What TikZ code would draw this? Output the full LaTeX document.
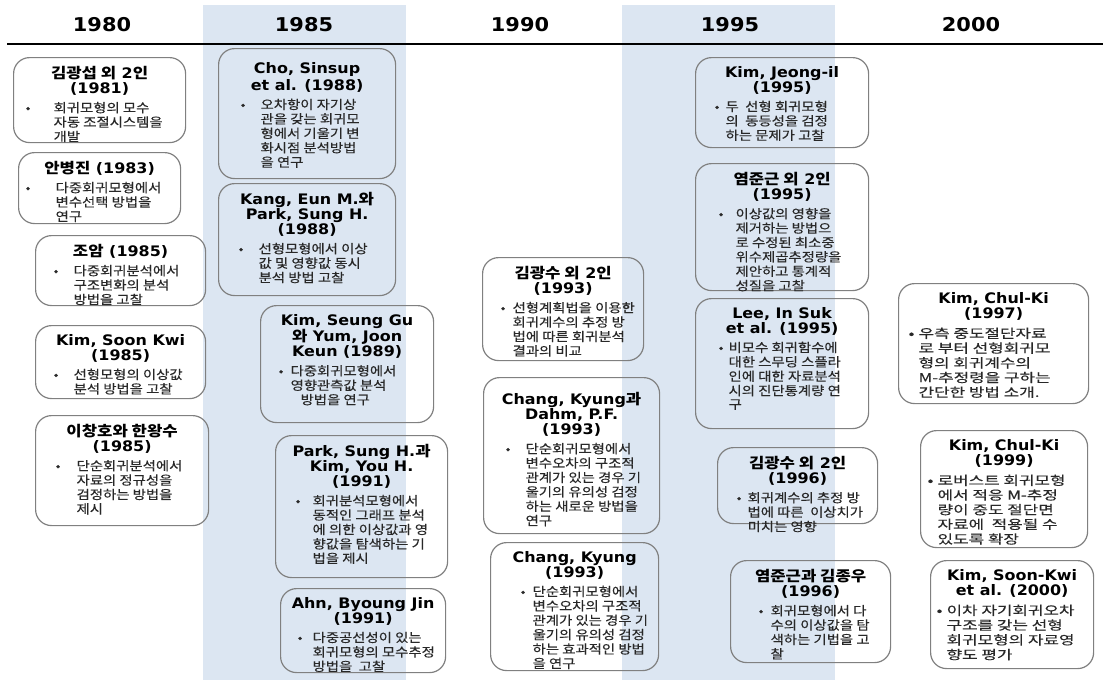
\documentclass[tikz,border=0pt]{standalone}
\usepackage{fontspec}
\setmainfont{DejaVu Sans}[FakeStretch=1.1]
\newfontfamily\krfont{Noto Sans CJK KR}[FakeStretch=1.15]
\newfontfamily\krbody{Noto Sans CJK KR}[FakeStretch=1.15, FakeBold=0.3]
\newfontfamily\krwide{Noto Sans CJK KR}[FakeStretch=1.35, FakeBold=0.3]
\newcommand{\kr}[1]{{\krfont #1}}

\definecolor{band}{RGB}{220,230,242}
\definecolor{boxline}{RGB}{128,128,128}
\definecolor{bodygray}{RGB}{40,40,40}

\newcommand{\titlefont}{\bfseries\fontsize{14.5}{15}\selectfont}
\newcommand{\bodyfont}{\mdseries\krbody\fontsize{12.5}{13.5}\selectfont\color{bodygray}}
\newcommand{\widebody}{\renewcommand{\bodyfont}{\mdseries\krwide\fontsize{12.5}{14.4}\selectfont\color{bodygray}}}
\newcommand{\papertext}[6]{%
  \parbox[t][#2pt][t]{#1pt}{\vspace*{5pt}\centering\titlefont #5\par
    \vspace{5pt}\raggedright\bodyfont
    \makebox[#4pt][l]{\hspace*{#3pt}\textbullet}%
    \begin{tabular}[t]{@{}l@{}}#6\end{tabular}\par}}

\tikzset{
  paper/.style={draw=boxline, line width=1.2pt, rounded corners=16pt, inner sep=4pt, anchor=north west},
  year/.style={font=\bfseries\fontsize{19}{22}\selectfont},
}

\begin{document}
\begin{tikzpicture}[x=1pt, y=-1pt]
\useasboundingbox (0,0) rectangle (1103,680);
\fill[band] (203,5) rectangle (406,680);
\fill[band] (622,5) rectangle (835,680);
\draw[line width=2pt] (7,44) -- (1103,44);

\node[year] (y1980) at (102,25) {1980};
\node[year] (y1985) at (304,25) {1985};
\node[year] (y1990) at (520,25) {1990};
\node[year] (y1995) at (730,25) {1995};
\node[year] (y2000) at (971,25) {2000};

\node[paper] (kim81) at (13,57) {\papertext{164}{77}{8}{36}{\kr{김광섭 외} 2\kr{인}\\(1981)}{회귀모형의 모수\\자동 조절시스템을\\개발}};
\node[paper] (ahn83) at (18,152) {\papertext{154}{63}{3}{33}{\kr{안병진} (1983)}{다중회귀모형에서\\변수선택 방법을\\연구}};
\node[paper] (cho85) at (35,235) {\papertext{162}{62}{14}{34}{\kr{조암} (1985)}{다중회귀분석에서\\구조변화의 분석\\방법을 고찰}};
\node[paper] (kimsk85) at (35,325) {\papertext{162}{65}{14}{34}{Kim, Soon Kwi\\(1985)}{선형모형의 이상값\\분석 방법을 고찰}};
\node[paper] (lee85) at (35,415) {\papertext{165}{102}{16}{37}{\kr{이창호와 한왕수}\\(1985)}{단순회귀분석에서\\자료의 정규성을\\검정하는 방법을\\제시}};

\node[paper] (cho88) at (218,48) {\papertext{169}{122}{18}{38}{\vspace*{5pt}Cho, Sinsup\\[2pt]et al. (1988)}{오차항이 자기상\\관을 갖는 회귀모\\형에서 기울기 변\\화시점 분석방법\\을 연구}};
\node[paper] (kang88) at (218,183) {\papertext{169}{104}{16}{36}{Kang, Eun M.\kr{와}\\Park, Sung H.\\(1988)}{선형모형에서 이상\\값 및 영향값 동시\\분석 방법 고찰}};
\node[paper] (kim89) at (260,305) {\papertext{165}{109}{14}{26}{Kim, Seung Gu\\\kr{와} Yum, Joon\\Keun (1989)}{다중회귀모형에서\\영향관측값 분석\\\hspace*{10pt}방법을 연구}};
\node[paper] (park91) at (275,435) {\papertext{164}{134}{16}{33}{Park, Sung H.\kr{과}\\Kim, You H.\\(1991)}{회귀분석모형에서\\동적인 그래프 분석\\에 의한 이상값과 영\\향값을 탐색하는 기\\법을 제시}};
\node[paper] (ahn91) at (280,588) {\papertext{157}{76}{13}{28}{Ahn, Byoung Jin\\(1991)}{다중공선성이 있는\\회귀모형의 모수추정\\방법을\ \ 고찰}};

\node[paper] (kim93) at (482,257) {\papertext{153}{95}{14}{26}{\kr{김광수 외} 2\kr{인}\\(1993)}{선형계획법을 이용한\\회귀계수의 추정 방\\법에 따른 회귀분석\\결과의 비교}};
\node[paper] (chang93a) at (483,377) {\papertext{168}{148}{18}{38}{\vspace*{6pt}Chang, Kyung\kr{과}\\Dahm, P.F.\\(1993)}{단순회귀모형에서\\변수오차의 구조적\\관계가 있는 경우 기\\울기의 유의성 검정\\하는 새로운 방법을\\연구}};
\node[paper] (chang93b) at (490,542) {\papertext{160}{120}{26}{38}{Chang, Kyung\\(1993)}{단순회귀모형에서\\변수오차의 구조적\\관계가 있는 경우 기\\울기의 유의성 검정\\하는 효과적인 방법\\을 연구}};

\node[paper] (kim95) at (695,57) {\papertext{165}{82}{15}{26}{Kim, Jeong-il\\(1995)}{두\ \ 선형 회귀모형\\의\ \ 동등성을 검정\\하는 문제가 고찰}};
\node[paper] (yum95) at (695,163) {\papertext{165}{119}{19}{36}{\kr{염준근 외} 2\kr{인}\\(1995)}{이상값의 영향을\\제거하는 방법으\\로 수정된 최소중\\위수제곱추정량을\\제안하고 통계적\\성질을 고찰}};
\node[paper] (lee95) at (695,298) {\papertext{165}{122}{19}{29}{Lee, In Suk\\et al. (1995)}{비모수 회귀함수에\\대한 스무딩 스플라\\인에 대한 자료분석\\시의 진단통계량 연\\구}};
\node[paper] (kim96) at (717,447) {\papertext{152}{68}{15}{26}{\kr{김광수 외} 2\kr{인}\\(1996)}{회귀계수의 추정 방\\법에 따른\ \ 이상치가\\미치는 영향}};
\node[paper] (yum96) at (730,560) {\papertext{152}{94}{24}{36}{\kr{염준근과 김종우}\\(1996)}{회귀모형에서 다\\수의 이상값을 탐\\색하는 기법을 고\\찰}};

\node[paper] (kim97) at (898,283) {\widebody\papertext{182}{112}{6}{16}{Kim, Chul-Ki\\(1997)}{우측 중도절단자료\\로 부터 선형회귀모\\형의 회귀계수의\\M-추정령을 구하는\\간단한 방법 소개.}};
\node[paper] (kim99) at (920,430) {\widebody\papertext{159}{109}{3}{13}{Kim, Chul-Ki\\(1999)}{로버스트 회귀모형\\에서 적응 M-추정\\량이 중도 절단면\\자료에\ \ 적용될 수\\있도록 확장}};
\node[paper] (kimsk00) at (930,560) {\widebody\papertext{155}{100}{2}{12}{Kim, Soon-Kwi\\et al. (2000)}{이차 자기회귀오차\\구조를 갖는 선형\\회귀모형의 자료영\\향도 평가}};
\end{tikzpicture}
\end{document}
